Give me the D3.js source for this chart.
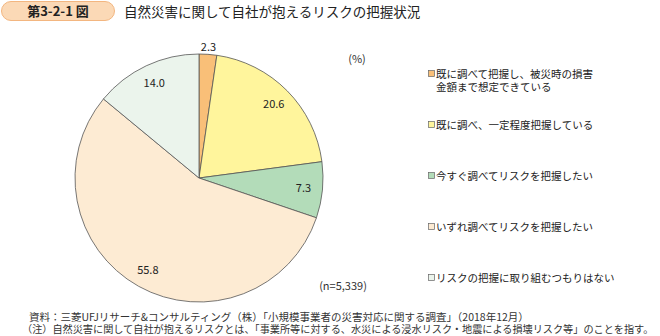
<!DOCTYPE html>
<html><head><meta charset="utf-8">
<script src="https://cdn.jsdelivr.net/npm/d3@7"></script>
<style>
html,body{margin:0;padding:0;background:#fff;}
svg{display:block;font-family:"Noto Sans CJK JP","Noto Sans",sans-serif;}
</style></head>
<body>
<svg id="c" width="660" height="336"></svg>
<script>
const categories = [
  "既に調べて把握し、被災時の損害金額まで想定できている",
  "既に調べ、一定程度把握している",
  "今すぐ調べてリスクを把握したい",
  "いずれ調べてリスクを把握したい",
  "リスクの把握に取り組むつもりはない"
];
const legendLines = [
  ["既に調べて把握し、被災時の損害", "金額まで想定できている"],
  ["既に調べ、一定程度把握している"],
  ["今すぐ調べてリスクを把握したい"],
  ["いずれ調べてリスクを把握したい"],
  ["リスクの把握に取り組むつもりはない"]
];
const values = [2.3, 20.6, 7.3, 55.8, 14.0];
const colors = ["#f9bf78", "#fff59c", "#b3dcb9", "#fdebd3", "#ebf4ec"];
const titleBadge = "第3-2-1 図";
const titleText = "自然災害に関して自社が抱えるリスクの把握状況";
const unitText = "(%)";
const nText = "(n=5,339)";
const notes = [
  "資料：三菱UFJリサーチ&コンサルティング（株）「小規模事業者の災害対応に関する調査」（2018年12月）",
  "（注）自然災害に関して自社が抱えるリスクとは、「事業所等に対する、水災による浸水リスク・地震による損壊リスク等」のことを指す。"
];

const svg = d3.select("#c");

// Title badge
svg.append("rect").attr("x", 1.5).attr("y", 1.5).attr("width", 113).attr("height", 19)
  .attr("rx", 9.5).attr("fill", "#fbd9b6").attr("stroke", "#f3b680").attr("stroke-width", 1);
svg.append("text").attr("x", 58).attr("y", 16).attr("text-anchor", "middle")
  .attr("font-size", 13).attr("font-weight", "bold").attr("fill", "#222").text(titleBadge);
svg.append("text").attr("x", 124).attr("y", 16.5)
  .attr("font-size", 13.5).attr("fill", "#222").text(titleText);

// Pie
const cx = 199, cy = 178, r = 124;
const pie = d3.pie().sort(null).value(d => d);
const arcs = pie(values);
const arc = d3.arc().innerRadius(0).outerRadius(r);
const labelArc = d3.arc().innerRadius(105).outerRadius(105);
const outArc = d3.arc().innerRadius(131).outerRadius(131);
const g = svg.append("g").attr("transform", `translate(${cx},${cy})`);
g.selectAll("path").data(arcs).join("path")
  .attr("d", arc).attr("fill", (d, i) => colors[i])
  .attr("stroke", "#555").attr("stroke-width", 0.8);
g.selectAll("text.lab").data(arcs).join("text").attr("class", "lab")
  .attr("transform", (d, i) => `translate(${(i === 0 ? outArc : labelArc).centroid(d)})`)
  .attr("text-anchor", "middle").attr("dy", "0.35em")
  .attr("font-size", 11).attr("fill", "#222")
  .text(d => d3.format(".1f")(d.data));

svg.append("text").attr("x", 357).attr("y", 63).attr("text-anchor", "middle")
  .attr("font-size", 11).attr("fill", "#333").text(unitText);
svg.append("text").attr("x", 343).attr("y", 290).attr("text-anchor", "middle")
  .attr("font-size", 11).attr("fill", "#333").text(nText);

// Legend
const legendY = d3.scalePoint().domain(categories).range([74, 278]);
const lg = svg.append("g");
categories.forEach((c, i) => {
  const y = legendY(c);
  lg.append("rect").attr("x", 428.5).attr("y", y - 3.5).attr("width", 6).attr("height", 6)
    .attr("fill", colors[i]).attr("stroke", "#666").attr("stroke-width", 0.7);
  legendLines[i].forEach((t, j) => {
    lg.append("text").attr("x", 436).attr("y", y + 4 + j * 13)
      .attr("font-size", 10.5).attr("fill", "#222").text(t);
  });
});

// Notes
svg.append("text").attr("x", 29).attr("y", 320.5).attr("font-size", 10.5).attr("fill", "#333").text(notes[0]);
const n2 = svg.append("text").attr("x", 22).attr("y", 332.5).attr("font-size", 10.5).attr("fill", "#333").text(notes[1]);
const len2 = n2.node().getComputedTextLength();
if (len2 > 632) n2.attr("font-size", 10.5 * 632 / len2);
</script>
</body></html>
